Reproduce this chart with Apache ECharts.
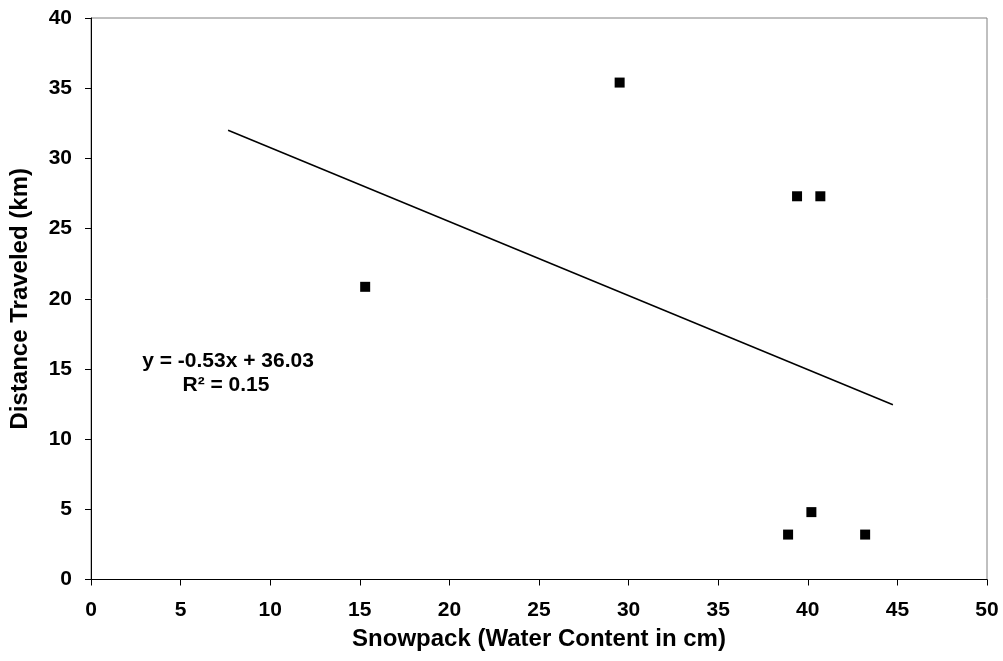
<!DOCTYPE html>
<html>
<head>
<meta charset="utf-8">
<script src="https://cdn.jsdelivr.net/npm/echarts@6/dist/echarts.min.js"></script>
<style>html,body{margin:0;padding:0;background:#fff}#c{width:1003px;height:661px}</style>
</head>
<body>
<div id="c"></div>
<script>
var snowpack = [15.3, 29.5, 39.4, 40.7, 38.9, 40.2, 43.2];
var distance = [20.85, 35.4, 27.3, 27.3, 3.2, 4.8, 3.2];
var trendX = [7.65, 44.75];
var trendY = [32.0, 12.45];
var eqLine1 = 'y = -0.53x + 36.03';
var eqLine2 = 'R\u00B2 = 0.15';

var pts = snowpack.map(function(x, i){ return [x, distance[i]]; });
var trend = trendX.map(function(x, i){ return [x, trendY[i]]; });
var F = 'Liberation Sans, Arial, sans-serif';
var chart = echarts.init(document.getElementById('c'));
chart.setOption({
  animation: false,
  grid: {left: 91, top: 18, right: 16, bottom: 81.5, show: true, borderColor: '#808080', borderWidth: 1},
  xAxis: {
    type: 'value', min: 0, max: 50, interval: 5,
    name: 'Snowpack (Water Content in cm)', nameLocation: 'middle', nameGap: 48,
    nameTextStyle: {fontFamily: F, fontWeight: 'bold', fontSize: 24, color: '#000'},
    axisLine: {lineStyle: {color: '#000', width: 1}},
    axisTick: {show: true, inside: false, length: 6, lineStyle: {color: '#000'}},
    axisLabel: {fontFamily: F, fontWeight: 'bold', fontSize: 21, color: '#000', margin: 20},
    splitLine: {show: false}
  },
  yAxis: {
    type: 'value', min: 0, max: 40, interval: 5,
    name: 'Distance Traveled (km)', nameLocation: 'middle', nameGap: 59, nameRotate: 90,
    nameTextStyle: {fontFamily: F, fontWeight: 'bold', fontSize: 24, color: '#000'},
    axisLine: {show: true, lineStyle: {color: '#000', width: 1}},
    axisTick: {show: true, inside: false, length: 6, lineStyle: {color: '#000'}},
    axisLabel: {fontFamily: F, fontWeight: 'bold', fontSize: 21, color: '#000', margin: 19},
    splitLine: {show: false}
  },
  series: [
    {type: 'line', data: trend, symbol: 'none', lineStyle: {color: '#000', width: 1.5}, silent: true, z: 2},
    {type: 'scatter', data: pts, symbol: 'rect', symbolSize: 10, itemStyle: {color: '#000', opacity: 1}, z: 3}
  ],
  graphic: [
    {type: 'text', style: {text: eqLine1, x: 228, y: 361, align: 'center', verticalAlign: 'middle', font: 'bold 21px ' + F, fill: '#000'}},
    {type: 'text', style: {text: eqLine2, x: 226, y: 385, align: 'center', verticalAlign: 'middle', font: 'bold 21px ' + F, fill: '#000'}}
  ]
});
</script>
</body>
</html>
